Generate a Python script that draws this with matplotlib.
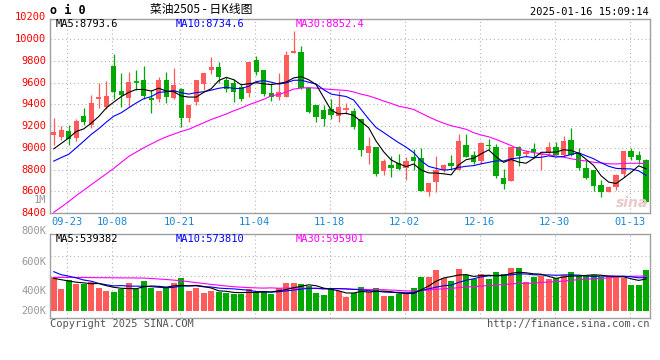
import pandas as pd
import matplotlib
matplotlib.use('Agg')
import matplotlib.pyplot as plt
from matplotlib.transforms import blended_transform_factory


## dados (80 pregoes, 09-19 ate 01-16)

opens = [9117, 9102, 9151, 9086, 9289, 9206, 9446, 9378, 9751, 9520,
         9458, 9606, 9622, 9458, 9452, 9622, 9458, 9538, 9274, 9422,
         9585, 9717, 9742, 9622, 9594, 9563, 9501, 9803, 9714, 9501,
         9471, 9471, 9871, 9883, 9545, 9391, 9348, 9360, 9292, 9354,
         9335, 9262, 8951, 9009, 8785, 8837, 8862, 8812, 8914, 8905,
         8591, 8683, 8800, 8862, 8800, 9022, 8935, 8877, 9025, 9003,
         8726, 8692, 9003, 8942, 8985, 8935, 8954, 9003, 8929, 9071,
         8951, 8815, 8797, 8662, 8597, 8640, 8760, 8966, 8932, 8889]
highs = [9271, 9200, 9212, 9268, 9363, 9483, 9600, 9612, 9865, 9692,
         9698, 9714, 9754, 9532, 9652, 9698, 9732, 9548, 9391, 9622,
         9686, 9834, 9788, 9655, 9628, 9582, 9791, 9846, 9714, 9600,
         9686, 9889, 10074, 9938, 9545, 9397, 9391, 9446, 9523, 9415,
         9363, 9262, 9102, 9009, 8892, 8926, 8938, 8917, 8985, 8997,
         8677, 8923, 8852, 8929, 9123, 9123, 8966, 9052, 9077, 9031,
         8806, 9003, 9015, 8978, 9040, 8951, 9052, 9052, 9108, 9185,
         8997, 8883, 8797, 8702, 8646, 8760, 8972, 8994, 8972, 8895]
lows = [9022, 9071, 9028, 9058, 9206, 9182, 9366, 9354, 9452, 9378,
        9378, 9532, 9446, 9317, 9422, 9415, 9446, 9191, 9237, 9397,
        9529, 9677, 9600, 9514, 9422, 9431, 9468, 9668, 9477, 9428,
        9440, 9471, 9871, 9538, 9317, 9237, 9200, 9268, 9237, 9311,
        9169, 8923, 8849, 8738, 8745, 8732, 8794, 8701, 8794, 8600,
        8554, 8597, 8775, 8800, 8800, 8917, 8855, 8855, 8975, 8720,
        8622, 8692, 8831, 8917, 8908, 8800, 8929, 8929, 8917, 8923,
        8800, 8711, 8606, 8551, 8591, 8615, 8732, 8883, 8855, 8502]
closes = [9145, 9160, 9083, 9243, 9237, 9409, 9465, 9474, 9514, 9489,
          9603, 9600, 9474, 9440, 9622, 9468, 9575, 9274, 9391, 9622,
          9686, 9742, 9649, 9538, 9514, 9452, 9791, 9695, 9492, 9471,
          9511, 9852, 9886, 9548, 9329, 9286, 9262, 9298, 9378, 9360,
          9188, 8978, 9012, 8763, 8874, 8812, 8806, 8880, 8880, 8600,
          8677, 8800, 8846, 8831, 9058, 8917, 8868, 9046, 9012, 8738,
          8665, 9003, 8923, 8960, 8960, 8945, 9003, 8935, 9065, 8929,
          8815, 8723, 8652, 8591, 8640, 8751, 8972, 8917, 8889, 8505]

# volume em mil
volumes = [583, 467, 557, 517, 517, 540, 477, 450, 437, 467,
           527, 467, 547, 477, 450, 487, 527, 577, 450, 477,
           430, 450, 437, 427, 420, 417, 467, 437, 447, 420,
           477, 527, 527, 517, 497, 430, 407, 467, 443, 390,
           427, 487, 437, 477, 400, 397, 417, 417, 477, 587,
           587, 657, 577, 547, 667, 607, 567, 617, 567, 637,
           617, 677, 677, 537, 587, 597, 567, 577, 607, 637,
           597, 597, 607, 587, 587, 587, 577, 507, 507, 657]

# medias do inicio (dependem de pregoes anteriores ao grafico)
ma5_ini = [8990, 9040, 9090, 9150]
ma10_ini = [8877, 8910, 8940, 9000, 9060, 9123, 9175, 9235, 9290]
ma30_ini = [8406, 8455, 8505, 8560, 8610, 8660, 8710, 8760, 8810, 8865,
            8920, 8960, 9000, 9035, 9070, 9100, 9125, 9150, 9170, 9200,
            9230, 9260, 9285, 9310, 9340, 9365, 9395, 9420, 9445]
vma5_ini = [573, 560, 547, 535]
vma10_ini = [640, 610, 595, 578, 557, 545, 523, 510, 498]
vma30_ini = [583, 583, 583, 582, 582, 581, 580, 580, 579, 578,
             578, 577, 576, 572, 567, 562, 556, 549, 540, 531,
             522, 513, 505, 497, 490, 485, 481, 478, 476]

tick_pos = [2, 8, 17, 27, 37, 47, 57, 67, 77]
tick_labels = ['09-23', '10-08', '10-21', '11-04', '11-18',
               '12-02', '12-16', '12-30', '01-13']
price_levels = [8400, 8600, 8800, 9000, 9200, 9400, 9600, 9800, 10000, 10200]
vol_levels = [400, 600, 800]
vol_labels = ['1M', '800K', '600K', '400K', '200K']
ma_names = ['MA5', 'MA10', 'MA30']
ma_price_txt = ['8793.6', '8734.6', '8852.4']
ma_vol_txt = ['539382', '573810', '595901']


## medias moveis

df = pd.DataFrame({'close': closes, 'vol': volumes})
ma5 = df.close.rolling(5).mean()
ma5[:len(ma5_ini)] = ma5_ini
ma10 = df.close.rolling(10).mean()
ma10[:len(ma10_ini)] = ma10_ini
ma30 = df.close.rolling(30).mean()
ma30[:len(ma30_ini)] = ma30_ini
vma5 = df.vol.rolling(5).mean()
vma5[:len(vma5_ini)] = vma5_ini
vma10 = df.vol.rolling(10).mean()
vma10[:len(vma10_ini)] = vma10_ini
vma30 = df.vol.rolling(30).mean()
vma30[:len(vma30_ini)] = vma30_ini


## figura

mono = 'DejaVu Sans Mono'
up = '#ff5b5b'
down = '#00a800'
grid_col = '#b4b4b4'
ma_cols = ['black', '#0000ff', '#ff00ff']

fig = plt.figure(figsize=(6.6, 3.6), dpi=100)
ax = fig.add_axes([50/660, 147/360, 599.5/660, 194/360])
vax = fig.add_axes([50/660, 42/360, 599.5/660, 84/360])

n = len(closes)
for a in (ax, vax):
    a.set_xlim(-0.5, n - 0.55)
    for s in a.spines.values():
        s.set_color('#a0a0a0')
        s.set_linewidth(1.0)
    a.set_xticks([])
    a.set_yticks([])
    for p in tick_pos:
        a.axvline(p - 0.2, color=grid_col, lw=0.8, ls=(0, (1, 2.5)), zorder=0)

ax.set_ylim(8400, 10184)
vax.set_ylim(177, 1017)

for lv in price_levels[1:-1]:
    ax.axhline(lv, color=grid_col, lw=0.8, ls=(0, (1, 2.5)), zorder=0)
for lv in vol_levels:
    vax.axhline(lv, color=grid_col, lw=0.8, ls=(0, (1, 2.5)), zorder=0)

# candles
for i in range(n):
    o, h, l, c = opens[i], highs[i], lows[i], closes[i]
    cor = up if c >= o else down
    ax.vlines(i, l, h, color=cor, lw=0.9, zorder=2)
    if abs(c - o) < 8:
        ax.hlines((o + c) / 2, i - 0.36, i + 0.36, color=cor, lw=1.3, zorder=3)
    else:
        ax.bar(i, abs(c - o), bottom=min(o, c), width=0.72, color=cor,
               linewidth=0, zorder=3)
    vax.bar(i, volumes[i] - 250, bottom=250, width=0.8, color=cor,
            linewidth=0, zorder=2)

x = range(n)
for serie, cor in zip([ma30, ma10, ma5], ma_cols[::-1]):
    ax.plot(x, serie, color=cor, lw=0.8, zorder=4)
for serie, cor in zip([vma30, vma10, vma5], ma_cols[::-1]):
    vax.plot(x, serie, color=cor, lw=0.8, zorder=4)

# textos dos eixos
tr = blended_transform_factory(ax.transAxes, ax.transData)
for lv in price_levels:
    ax.text(-0.006, lv, str(lv), transform=tr, ha='right', va='center',
            color='#ff0000', fontsize=7.5, family=mono)

vol_y = [1.405, 1.036, 0.670, 0.325, 0.087]
for txt, yy in zip(vol_labels, vol_y):
    vax.text(-0.006, yy, txt, transform=vax.transAxes, ha='right',
             va='center', color='#999999', fontsize=7.5, family=mono)

trx = blended_transform_factory(ax.transData, ax.transAxes)
for p, lab in zip(tick_pos, tick_labels):
    ax.text(p - 0.2, -0.045, lab, transform=trx, ha='center', va='center',
            color='#1a86d6', fontsize=7.5, family=mono)

# legendas das medias
leg_x = [0.009, 0.209, 0.409]
for k in range(3):
    ax.text(leg_x[k], 0.972, ma_names[k] + ':' + ma_price_txt[k],
            transform=ax.transAxes, va='center', ha='left',
            color=ma_cols[k], fontsize=7.5, family=mono)
    vax.text(leg_x[k], 0.945, ma_names[k] + ':' + ma_vol_txt[k],
             transform=vax.transAxes, va='center', ha='left',
             color=ma_cols[k], fontsize=7.5, family=mono)

# cabecalho e rodape
fig.text(50/660, 1 - 10/360, 'o i 0', fontsize=8.5, weight='bold',
         family=mono, va='center', ha='left')
fig.text(201/660, 1 - 10/360, '菜油2505 - 日K线图', fontsize=8.5,
         family=['Noto Sans CJK SC', 'DejaVu Sans'], va='center', ha='center')
fig.text(649/660, 1 - 12/360, '2025-01-16 15:09:14', fontsize=7.5,
         family=mono, va='center', ha='right')
fig.text(50/660, 1 - 324/360, 'Copyright 2025 SINA.COM', fontsize=7.5,
         family=mono, va='center', ha='left', color='#555555')
fig.text(649/660, 1 - 324/360, 'http://finance.sina.com.cn', fontsize=7.5,
         family=mono, va='center', ha='right', color='#555555')
fig.text(632/660, 1 - 203/360, 'sina', fontsize=10, style='italic',
         weight='bold', color='#ecc8c8', va='center', ha='center', zorder=1)

fig.savefig('out.png', dpi=100)
